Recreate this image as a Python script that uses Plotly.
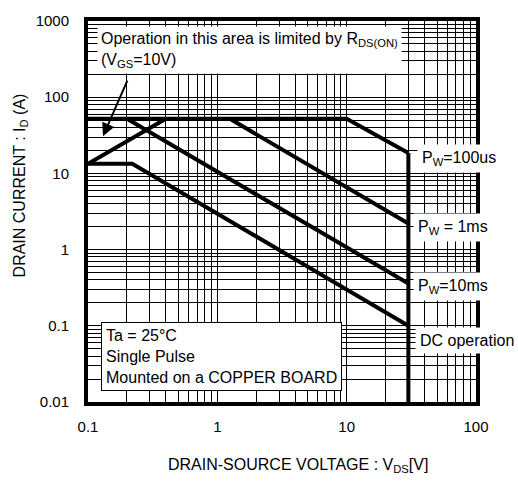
import plotly.graph_objects as go

# ---- data ----
top_x = [0.1, 10, 30]           # 100us pulse line (I_D pulse limit then power limit)
top_y = [52, 52, 18.5]
vdss_x = [30, 30]               # V_DSS limit
vdss_y = [18.5, 0.01]
ms1_x = [1.25, 30]
ms1_y = [52, 2.2]
ms10_x = [0.2, 30]
ms10_y = [52, 0.36]
dc_x = [0.1, 0.22, 30]
dc_y = [13.4, 13.4, 0.1]
rds_x = [0.1, 0.4]
rds_y = [13.4, 52]

x_ticks = [0.1, 1, 10, 100]
x_ticktext = ["0.1", "1", "10", "100"]
y_ticks = [0.01, 0.1, 1, 10, 100, 1000]
y_ticktext = ["0.01", "0.1", "1", "10", "100", "1000"]

FONT = "Liberation Sans"
LW = 4

fig = go.Figure()
for xs, ys in [(top_x, top_y), (vdss_x, vdss_y), (ms1_x, ms1_y),
               (ms10_x, ms10_y), (dc_x, dc_y), (rds_x, rds_y)]:
    fig.add_trace(go.Scatter(x=xs, y=ys, mode="lines",
                             line=dict(color="black", width=LW),
                             showlegend=False, hoverinfo="skip"))

grid = dict(showgrid=True, gridcolor="black", gridwidth=1)
tf = dict(family=FONT, size=15, color="black", weight=400)
fig.update_xaxes(type="log", range=[-1, 2], tickvals=x_ticks, ticktext=x_ticktext,
                 showline=True, mirror=True, linecolor="black", linewidth=4,
                 ticks="", ticklabelstandoff=8, tickfont=tf,
                 minor=dict(dtick="D1", showgrid=True, gridcolor="black", gridwidth=1),
                 **grid)
fig.update_yaxes(type="log", range=[-2, 3], tickvals=y_ticks, ticktext=y_ticktext,
                 showline=True, mirror=True, linecolor="black", linewidth=4,
                 ticks="", ticklabelstandoff=12, tickfont=tf,
                 minor=dict(dtick="D1", showgrid=True, gridcolor="black", gridwidth=1),
                 **grid)

W, H = 518, 482
L, R, T, B = 88, 42, 15, 80
pw, ph = W - L - R, H - T - B

def px(xp):
    return (xp - L) / pw

def py(yp):
    return (H - B - yp) / ph

ann = []
# R_DS(ON) note
ann.append(dict(xref="paper", yref="paper", x=px(97), y=py(20), xanchor="left", yanchor="top",
                text="Operation in this area is limited by R<sub>DS(ON)</sub><br>(V<sub>GS</sub>=10V)",
                align="left", showarrow=False, bgcolor="white", borderpad=3,
                font=dict(family=FONT, size=16, color="black")))
# arrow
ann.append(dict(xref="paper", yref="paper", x=px(103), y=py(132), ax=25, ay=-57,
                axref="pixel", ayref="pixel", text="", showarrow=True,
                arrowhead=2, arrowsize=1.3, arrowwidth=2, arrowcolor="black"))
# conditions box
ann.append(dict(xref="paper", yref="paper", x=px(101), y=py(391), xanchor="left", yanchor="bottom",
                text="Ta = 25°C<br>Single Pulse<br>Mounted on a COPPER BOARD",
                align="left", showarrow=False, bgcolor="white", bordercolor="black",
                borderwidth=1, borderpad=4,
                font=dict(family=FONT, size=16, color="black")))
# right labels
for txt, xx, yy in [("P<sub>W</sub>=100us", 417, 155), ("P<sub>W</sub> = 1ms", 413, 225),
                    ("P<sub>W</sub>=10ms", 413, 285), ("DC operation", 415, 340)]:
    ann.append(dict(xref="paper", yref="paper", x=px(xx), y=py(yy), xanchor="left", yanchor="middle",
                    text=txt, showarrow=False, bgcolor="white", borderpad=4,
                    font=dict(family=FONT, size=16, color="black")))
# axis titles
ann.append(dict(xref="paper", yref="paper", x=px(298), y=py(467), xanchor="center", yanchor="middle",
                text="DRAIN-SOURCE VOLTAGE : V<sub>DS</sub>[V]", showarrow=False,
                font=dict(family=FONT, size=16, color="black")))
ann.append(dict(xref="paper", yref="paper", x=px(20), y=py(182), xanchor="center", yanchor="middle",
                text="DRAIN CURRENT : I<sub>D</sub> (A)", showarrow=False, textangle=-90,
                font=dict(family=FONT, size=16, color="black")))

fig.update_layout(width=W, height=H, margin=dict(l=L, r=R, t=T, b=B),
                  plot_bgcolor="white", paper_bgcolor="white",
                  annotations=ann, font=dict(family=FONT, color="black"))

fig.write_html("out.html", config={"displayModeBar": False},
               post_script="document.body.style.margin='0';document.body.style.padding='0';")
